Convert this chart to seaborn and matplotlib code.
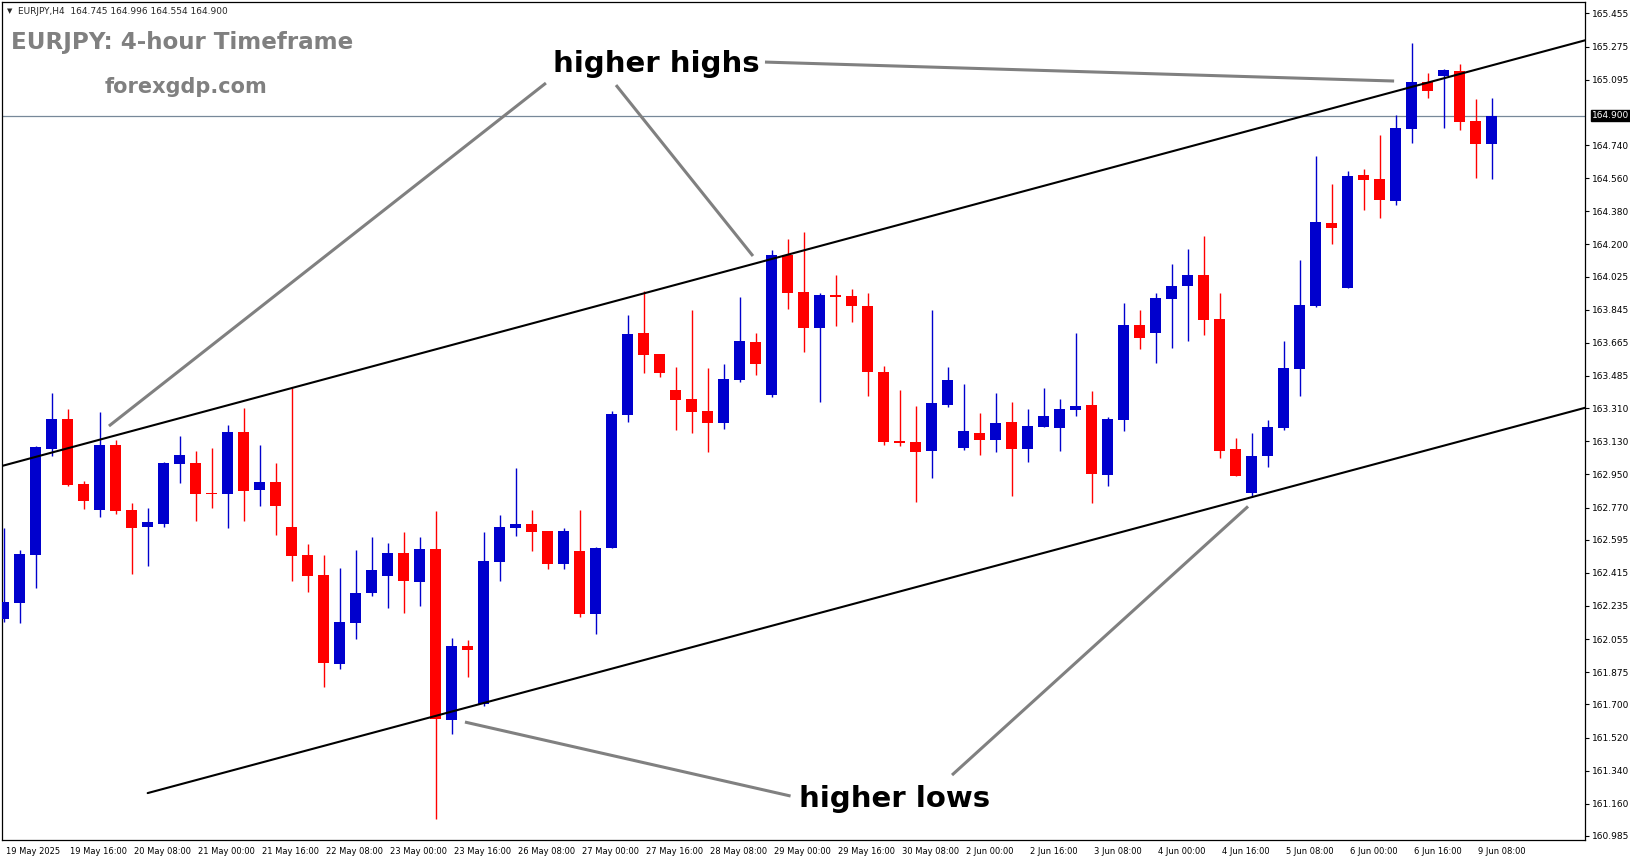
import numpy as np
import pandas as pd
import seaborn as sns
import matplotlib.pyplot as plt
import matplotlib.transforms as mtransforms

opens = [162.166, 162.253, 162.514, 163.088, 163.251, 162.898, 162.758, 163.110, 162.757, 162.666,
         162.682, 163.008, 163.012, 162.849, 162.845, 163.180, 162.867, 162.909, 162.664, 162.512,
         162.403, 161.921, 162.144, 162.307, 162.400, 162.523, 162.367, 162.545, 161.617, 162.017,
         161.702, 162.476, 162.661, 162.680, 162.642, 162.465, 162.534, 162.193, 162.552, 163.275,
         163.719, 163.604, 163.409, 163.360, 163.295, 163.231, 163.465, 163.670, 163.383, 164.142,
         163.941, 163.748, 163.925, 163.920, 163.865, 163.507, 163.133, 163.126, 163.079, 163.327,
         163.093, 163.175, 163.137, 163.235, 163.088, 163.208, 163.202, 163.300, 163.327, 162.947,
         163.246, 163.762, 163.719, 163.903, 163.974, 164.034, 163.795, 163.088, 162.849, 163.050,
         163.202, 163.523, 163.865, 164.316, 163.963, 164.577, 164.556, 164.437, 164.827, 165.083,
         165.115, 165.143, 164.871, 164.745]
highs = [162.657, 162.539, 163.104, 163.394, 163.306, 162.916, 163.289, 163.137, 162.795, 162.767,
         163.017, 163.159, 163.077, 163.094, 163.219, 163.311, 163.110, 163.012, 163.420, 162.572,
         162.512, 162.441, 162.539, 162.610, 162.577, 162.637, 162.610, 162.751, 162.061, 162.050,
         162.637, 162.729, 162.985, 162.757, 162.642, 162.659, 162.757, 162.555, 163.295, 163.816,
         163.947, 163.604, 163.534, 163.844, 163.528, 163.550, 163.914, 163.719, 164.170, 164.229,
         164.268, 163.936, 164.034, 163.958, 163.936, 163.539, 163.409, 163.322, 163.844, 163.534,
         163.441, 163.284, 163.392, 163.344, 163.305, 163.420, 163.360, 163.719, 163.403, 163.262,
         163.882, 163.844, 163.936, 164.094, 164.175, 164.246, 163.936, 163.148, 163.175, 163.246,
         163.675, 164.115, 164.681, 164.528, 164.599, 164.610, 164.795, 164.903, 165.295, 165.132,
         165.153, 165.181, 164.990, 164.996]
lows = [162.148, 162.144, 162.334, 163.050, 162.887, 162.764, 162.720, 162.737, 162.411, 162.454,
        162.666, 162.905, 162.699, 162.769, 162.661, 162.699, 162.780, 162.623, 162.372, 162.313,
        161.796, 161.894, 162.057, 162.291, 162.226, 162.199, 162.237, 161.075, 161.541, 161.851,
        161.691, 162.372, 162.615, 162.536, 162.438, 162.438, 162.177, 162.084, 162.552, 163.237,
        163.503, 163.481, 163.193, 163.177, 163.074, 163.199, 163.454, 163.492, 163.373, 163.851,
        163.617, 163.345, 163.758, 163.780, 163.378, 163.112, 163.106, 162.802, 162.932, 163.316,
        163.083, 163.056, 163.072, 162.833, 163.017, 163.208, 163.077, 163.267, 162.795, 162.887,
        163.186, 163.632, 163.555, 163.637, 163.677, 163.708, 163.039, 162.941, 162.829, 162.990,
        163.191, 163.376, 163.860, 164.202, 163.963, 164.387, 164.344, 164.415, 164.751, 164.996,
        164.833, 164.822, 164.561, 164.554]
closes = [162.258, 162.517, 163.101, 163.251, 162.892, 162.807, 163.110, 162.751, 162.661, 162.691,
          163.012, 163.056, 162.845, 162.844, 163.180, 162.862, 162.909, 162.780, 162.508, 162.400,
          161.927, 162.148, 162.305, 162.430, 162.523, 162.372, 162.545, 161.622, 162.017, 161.997,
          162.479, 162.664, 162.680, 162.639, 162.465, 162.642, 162.193, 162.550, 163.278, 163.713,
          163.601, 163.503, 163.356, 163.291, 163.231, 163.469, 163.675, 163.552, 164.142, 163.938,
          163.748, 163.925, 163.916, 163.867, 163.508, 163.128, 163.122, 163.074, 163.338, 163.463,
          163.186, 163.139, 163.229, 163.088, 163.213, 163.267, 163.305, 163.322, 162.952, 163.251,
          163.762, 163.691, 163.909, 163.974, 164.034, 163.789, 163.077, 162.941, 163.050, 163.208,
          163.528, 163.871, 164.322, 164.289, 164.572, 164.550, 164.441, 164.833, 165.083, 165.034,
          165.148, 164.865, 164.746, 164.900]

# Zeitachse: ein Label alle 4 Kerzen
date_labels = ['19 May 2025', '19 May 16:00', '20 May 08:00', '21 May 00:00', '21 May 16:00',
               '22 May 08:00', '23 May 00:00', '23 May 16:00', '26 May 08:00', '27 May 00:00',
               '27 May 16:00', '28 May 08:00', '29 May 00:00', '29 May 16:00', '30 May 08:00',
               '2 Jun 00:00', '2 Jun 16:00', '3 Jun 08:00', '4 Jun 00:00', '4 Jun 16:00',
               '5 Jun 08:00', '6 Jun 00:00', '6 Jun 16:00', '9 Jun 08:00']
price_ticks = [165.455, 165.275, 165.095, 164.740, 164.560, 164.380, 164.200, 164.025, 163.845,
               163.665, 163.485, 163.310, 163.130, 162.950, 162.770, 162.595, 162.415, 162.235,
               162.055, 161.875, 161.700, 161.520, 161.340, 161.160, 160.985]
last_price = 164.900

# Kanal-Linien (Kerzenindex, Kurs)
upper_channel_x = [-0.05, 95.41]
upper_channel_y = [162.997, 165.229]
lower_channel_x = [9.01, 86.66]
lower_channel_y = [161.218, 163.028]

# Hinweis-Linien zu den Texten
highs_pointer_x = [[33.90, 6.59], [38.28, 46.84], [47.59, 86.91]]
highs_pointer_y = [[165.077, 163.213], [165.066, 164.137], [165.191, 165.088]]
lows_pointer_x = [[49.19, 28.84], [59.28, 77.78]]
lows_pointer_y = [[161.202, 161.604], [161.316, 162.776]]

df = pd.DataFrame({'open': opens, 'high': highs, 'low': lows, 'close': closes})
df['bar'] = np.arange(len(df))
df['bull'] = df['close'] >= df['open']

sns.set_style('white')
plt.rcParams['font.family'] = ['DejaVu Sans']

W, H = 1631, 861
fig = plt.figure(figsize=(W / 100, H / 100), dpi=100)
ax = fig.add_axes([2.5 / W, 1 - 840 / H, (1585 - 2.5) / W, 838 / H])

blue, red = '#0000CD', '#FF0000'
colors = np.where(df['bull'], blue, red)

# Dochte
ax.vlines(df['bar'], df['low'], df['high'], colors=colors, linewidth=1.0, zorder=3)
# Kerzenkoerper
body_low = df[['open', 'close']].min(axis=1)
body_h = (df['close'] - df['open']).abs().clip(lower=0.006)
ax.bar(df['bar'], body_h, bottom=body_low, width=0.69, color=colors, linewidth=0, zorder=4)

# Bid-Linie
ax.axhline(last_price, color='#778899', linewidth=0.9, zorder=2)

# Kanal
ext = 110
up_slope = (upper_channel_y[1] - upper_channel_y[0]) / (upper_channel_x[1] - upper_channel_x[0])
lo_slope = (lower_channel_y[1] - lower_channel_y[0]) / (lower_channel_x[1] - lower_channel_x[0])
sns.lineplot(x=[upper_channel_x[0] - 2, ext],
             y=[upper_channel_y[0] - 2 * up_slope, upper_channel_y[0] + (ext - upper_channel_x[0]) * up_slope],
             color='black', linewidth=1.5, ax=ax, zorder=5)
sns.lineplot(x=[lower_channel_x[0], ext],
             y=[lower_channel_y[0], lower_channel_y[0] + (ext - lower_channel_x[0]) * lo_slope],
             color='black', linewidth=1.5, ax=ax, zorder=5)

for xs, ys in zip(highs_pointer_x + lows_pointer_x, highs_pointer_y + lows_pointer_y):
    ax.plot(xs, ys, color='#808080', linewidth=2.2, solid_capstyle='butt', zorder=6)

ax.text(40.8, 165.178, 'higher highs', fontsize=21, fontweight='bold', color='black',
        ha='center', va='center', zorder=7)
ax.text(55.7, 161.186, 'higher lows', fontsize=21, fontweight='bold', color='black',
        ha='center', va='center', zorder=7)

# Achsen
ax.set_xlim(-0.0625, 98.84)
ax.set_ylim(160.963, 165.5175)
for s in ax.spines.values():
    s.set_color('black')
    s.set_linewidth(0.9)

ax.yaxis.tick_right()
ax.set_yticks(price_ticks)
ax.set_yticklabels([f'{p:.3f}' for p in price_ticks])
ax.tick_params(axis='y', direction='out', length=3, width=0.8, pad=2, labelsize=6.5, colors='black')

ax.set_xticks(np.arange(0, len(df), 4)[:len(date_labels)])
ax.set_xticklabels(date_labels, ha='left')
ax.tick_params(axis='x', direction='out', length=3, width=0.8, pad=2, labelsize=6, colors='black')
offset = mtransforms.ScaledTranslation(2 / 100, 0, fig.dpi_scale_trans)
for lbl in ax.get_xticklabels():
    lbl.set_transform(lbl.get_transform() + offset)

# Preisschild rechts
ax.annotate(f'{last_price:.3f}', xy=(1.0, last_price), xycoords=('axes fraction', 'data'),
            xytext=(5, 0), textcoords='offset points', ha='left', va='center',
            fontsize=6.5, color='white',
            bbox=dict(boxstyle='square,pad=0.15', facecolor='black', edgecolor='black'))

# Kopfzeile und Titel
fig.text(7 / W, 1 - 11 / H, '\u25bc', fontsize=5, va='center', ha='left')
fig.text(18 / W, 1 - 11 / H, 'EURJPY,H4  164.745 164.996 164.554 164.900', fontsize=6.5,
         va='center', ha='left')
fig.text(11 / W, 1 - 42 / H, 'EURJPY: 4-hour Timeframe', fontsize=16.6, fontweight='bold',
         color='#808080', va='center', ha='left')
fig.text(105 / W, 1 - 87 / H, 'forexgdp.com', fontsize=15, fontweight='bold',
         color='#808080', va='center', ha='left')

fig.savefig('out.png', dpi=100, facecolor='white')
